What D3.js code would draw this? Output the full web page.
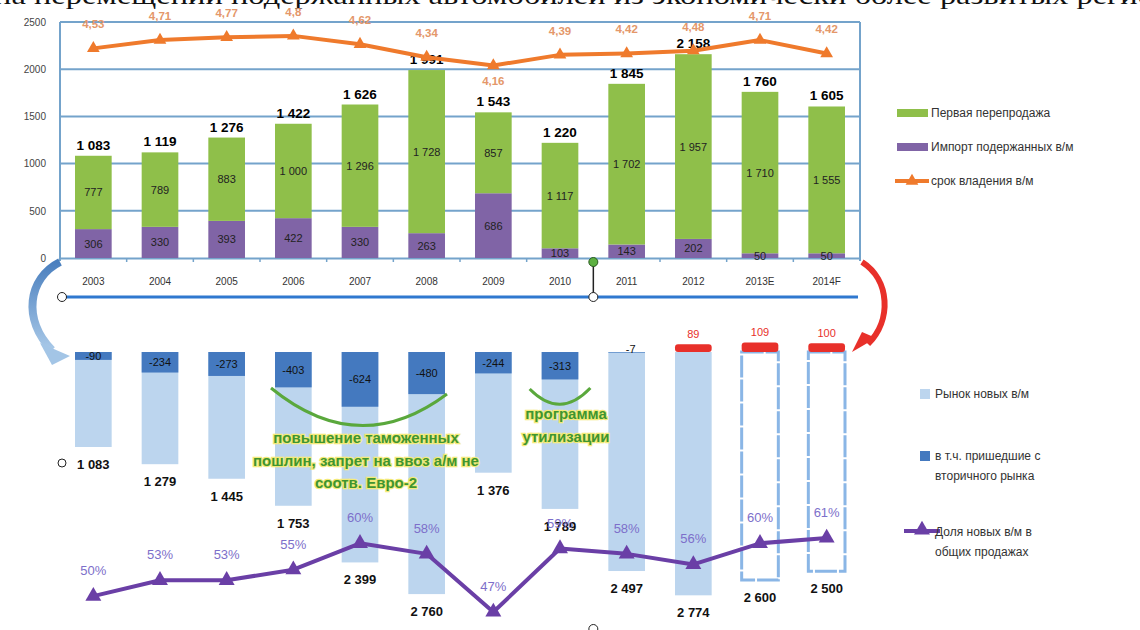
<!DOCTYPE html>
<html><head><meta charset="utf-8">
<script src="https://cdn.jsdelivr.net/npm/d3@7/dist/d3.min.js"></script>
<style>
body{margin:0;background:#fff;}
svg{display:block;}
text{font-family:"Liberation Sans",Arial,sans-serif;}
</style></head>
<body>
<svg id="c" width="1140" height="630"></svg>
<script>
// ---------- DATA ----------
const years = ["2003","2004","2005","2006","2007","2008","2009","2010","2011","2012","2013E","2014F"];
const importUsed = [306,330,393,422,330,263,686,103,143,202,50,50];
const firstResale = [777,789,883,1000,1296,1728,857,1117,1702,1957,1710,1555];
const totalUsed = [1083,1119,1276,1422,1626,1991,1543,1220,1845,2158,1760,1605];
const ownership = [4.53,4.71,4.77,4.8,4.62,4.34,4.16,4.39,4.42,4.48,4.71,4.42];
const ownershipLabels = ["4,53","4,71","4,77","4,8","4,62","4,34","4,16","4,39","4,42","4,48","4,71","4,42"];
const newMarket = [1083,1279,1445,1753,2399,2760,1376,1789,2497,2774,2600,2500];
const fromSecondary = [-90,-234,-273,-403,-624,-480,-244,-313,-7,89,109,100];
const newShare = [50,53,53,55,60,58,47,59,58,56,60,61];
const forecast = [false,false,false,false,false,false,false,false,false,false,true,true];
const yTicksTop = [0,500,1000,1500,2000,2500];
const legendTop = ["Первая перепродажа","Импорт подержанных в/м","срок владения в/м"];
const legendBottom = [["Рынок новых в/м"],["в т.ч. пришедшие с","вторичного рынка"],["Доля новых в/м в","общих продажах"]];
const note1 = ["повышение таможенных","пошлин, запрет на ввоз а/м не","соотв. Евро-2"];
const note2 = ["программа","утилизации"];
const titleText = "на перемещении подержанных автомобилей из экономически более развитых регио";

// ---------- COLORS ----------
const cGreen="#8fbf4a", cPurple="#8064a6", cOrange="#ef7a2c", cOrangeTxt="#e4976a",
      cLight="#bcd5ee", cDark="#4479bf", cRed="#e8302a", cGrid="#74a3cb",
      cLine="#6a3fa6", cPct="#7d6fca", cNote="#3f9530";

const svg = d3.select("#c");

// title (cropped at top)
svg.append("text").attr("x",-6).attr("y",4).attr("textLength",1160)
  .attr("lengthAdjust","spacingAndGlyphs")
  .style("font-family","'Liberation Serif','DejaVu Serif',serif").style("font-size","26px")
  .attr("fill","#111").text(titleText);

// ---------- SCALES ----------
const x = d3.scaleBand().domain(years).range([60,860]).paddingInner(0.45).paddingOuter(0.225);
const yT = d3.scaleLinear().domain([0,2500]).range([258,22]);
const yO = d3.scaleLinear().domain([0,5.1]).range([258,22]);
const yB = d3.scaleLinear().domain([0,2800]).range([352,597.6]);
const yP = d3.scaleLinear().domain([47,61]).range([612,538]);
const cx = d => x(d)+x.bandwidth()/2;

// ---------- TOP CHART ----------
const gTop = svg.append("g");
gTop.selectAll("line.g").data(yTicksTop.slice(1)).join("line")
  .attr("x1",60).attr("x2",860).attr("y1",d=>yT(d)).attr("y2",d=>yT(d))
  .attr("stroke",cGrid).attr("stroke-width",2);
gTop.append("line").attr("x1",60).attr("x2",60).attr("y1",yT(2500)).attr("y2",yT(0)+3).attr("stroke",cGrid).attr("stroke-width",2);
gTop.append("line").attr("x1",860).attr("x2",860).attr("y1",yT(2500)).attr("y2",yT(0)+3).attr("stroke",cGrid).attr("stroke-width",2);
const xAxis = d3.axisBottom(x).tickSize(0).tickPadding(20);
const gx = gTop.append("g").attr("transform",`translate(0,${yT(0)})`).call(xAxis);
gx.select(".domain").attr("stroke",cGrid).attr("stroke-width",2);
gx.selectAll("text").style("font-size","10px").attr("fill","#333");
gTop.selectAll("line.bt").data(years.slice(1)).join("line")
  .attr("x1",d=>x(d)-x.step()*x.paddingInner()/2).attr("x2",d=>x(d)-x.step()*x.paddingInner()/2)
  .attr("y1",yT(0)).attr("y2",yT(0)+4).attr("stroke",cGrid).attr("stroke-width",1.5);
const yAxis = d3.axisLeft(yT).tickValues(yTicksTop).tickFormat(d3.format("d")).tickSize(0).tickPadding(14);
const gy = gTop.append("g").attr("transform","translate(60,0)").call(yAxis);
gy.select(".domain").remove();
gy.selectAll("text").style("font-size","10px").attr("fill","#444");

gTop.selectAll("rect.imp").data(years).join("rect")
  .attr("x",d=>x(d)).attr("width",x.bandwidth())
  .attr("y",(d,i)=>yT(importUsed[i])).attr("height",(d,i)=>yT(0)-yT(importUsed[i]))
  .attr("fill",cPurple);
gTop.selectAll("rect.fr").data(years).join("rect")
  .attr("x",d=>x(d)).attr("width",x.bandwidth())
  .attr("y",(d,i)=>yT(importUsed[i]+firstResale[i])).attr("height",(d,i)=>yT(importUsed[i])-yT(importUsed[i]+firstResale[i]))
  .attr("fill",cGreen);
const fmt = v => d3.format(",")(v).replace(/,/g," ");
gTop.selectAll("text.iv").data(years).join("text")
  .attr("x",cx).attr("y",(d,i)=>(yT(0)+yT(importUsed[i]))/2+4).attr("text-anchor","middle")
  .style("font-size","11px").attr("fill","#222").text((d,i)=>fmt(importUsed[i]));
gTop.selectAll("text.fv").data(years).join("text")
  .attr("x",cx).attr("y",(d,i)=>(yT(importUsed[i])+yT(importUsed[i]+firstResale[i]))/2+4).attr("text-anchor","middle")
  .style("font-size","11px").attr("fill","#222").text((d,i)=>fmt(firstResale[i]));
gTop.selectAll("text.tv").data(years).join("text")
  .attr("x",cx).attr("y",(d,i)=>yT(totalUsed[i])-6).attr("text-anchor","middle")
  .style("font-size","13.5px").style("font-weight","bold").attr("fill","#000").text((d,i)=>fmt(totalUsed[i]));

const lineO = d3.line().x((d,i)=>cx(years[i])).y(d=>yO(d));
gTop.append("path").datum(ownership).attr("d",lineO).attr("fill","none")
  .attr("stroke",cOrange).attr("stroke-width",4).attr("stroke-linejoin","round");
const tri = d3.symbol().type(d3.symbolTriangle).size(70);
gTop.selectAll("path.om").data(ownership).join("path")
  .attr("d",tri).attr("transform",(d,i)=>`translate(${cx(years[i])},${yO(d)})`).attr("fill",cOrange);
gTop.selectAll("text.ol").data(ownership).join("text")
  .attr("x",(d,i)=>cx(years[i])).attr("y",(d,i)=> i===6 ? yO(d)+20 : yO(d)-20)
  .attr("text-anchor","middle").style("font-size","11.5px").style("font-weight","bold")
  .attr("fill",cOrangeTxt).text((d,i)=>ownershipLabels[i]);

// connector line + handles
svg.append("line").attr("x1",62).attr("x2",858).attr("y1",297).attr("y2",297).attr("stroke","#2f78cf").attr("stroke-width",3);
const hx = x("2011")-x.step()*x.paddingInner()/2;
svg.append("line").attr("x1",hx).attr("x2",hx).attr("y1",262).attr("y2",297).attr("stroke","#222").attr("stroke-width",1.5);
svg.append("circle").attr("cx",hx).attr("cy",262).attr("r",4.5).attr("fill","#5cb040").attr("stroke","#2a5a20");
svg.append("circle").attr("cx",hx).attr("cy",297).attr("r",4.5).attr("fill","#fff").attr("stroke","#222");
svg.append("circle").attr("cx",62).attr("cy",297).attr("r",4.5).attr("fill","#fff").attr("stroke","#222");
svg.append("circle").attr("cx",62).attr("cy",463).attr("r",4).attr("fill","#fff").attr("stroke","#222");
svg.append("circle").attr("cx",hx).attr("cy",629).attr("r",4.5).attr("fill","#fff").attr("stroke","#222");

// legend top
const lt = svg.append("g");
lt.append("rect").attr("x",897).attr("y",109).attr("width",31).attr("height",8).attr("fill",cGreen);
lt.append("rect").attr("x",897).attr("y",143).attr("width",31).attr("height",8).attr("fill",cPurple);
lt.append("line").attr("x1",895).attr("x2",929).attr("y1",181).attr("y2",181).attr("stroke",cOrange).attr("stroke-width",4);
lt.append("path").attr("d",tri).attr("transform","translate(912,181)").attr("fill",cOrange);
lt.selectAll("text").data(legendTop).join("text")
  .attr("x",931).attr("y",(d,i)=>[117,151,185][i]).style("font-size","12px").attr("fill","#333").text(d=>d);

// ---------- BOTTOM CHART ----------
const bot = svg.append("g");
bot.selectAll("rect.nm").data(years).join("rect")
  .attr("x",d=>x(d)).attr("width",x.bandwidth())
  .attr("y",yB(0)).attr("height",(d,i)=>yB(newMarket[i])-yB(0))
  .attr("fill",(d,i)=>forecast[i]?"#fff":cLight)
  .attr("stroke",(d,i)=>forecast[i]?"#8ab6e6":"none")
  .attr("stroke-width",3).attr("stroke-dasharray",(d,i)=>forecast[i]?"22,2":null);
bot.selectAll("rect.fs").data(years).join("rect")
  .attr("x",d=>x(d)).attr("width",x.bandwidth())
  .attr("y",(d,i)=>Math.min(yB(0),yB(-fromSecondary[i])))
  .attr("height",(d,i)=>Math.abs(yB(-fromSecondary[i])-yB(0)))
  .attr("fill",(d,i)=>fromSecondary[i]<0?cDark:cRed)
  .attr("rx",(d,i)=>fromSecondary[i]<0?0:3);
bot.selectAll("text.fsl").data(years).join("text")
  .attr("x",(d,i)=> fromSecondary[i]>-20 && fromSecondary[i]<0 ? cx(d)+4 : cx(d))
  .attr("y",(d,i)=>{
     const v=fromSecondary[i];
     if(v>0) return yB(-v)-6;
     if(v>-20) return yB(0)+1;
     return (yB(0)+yB(-v))/2+4;})
  .attr("text-anchor","middle").style("font-size","11px")
  .attr("fill",(d,i)=>fromSecondary[i]>0?cRed:"#111")
  .text((d,i)=>String(fromSecondary[i]));
bot.selectAll("text.nml").data(years).join("text")
  .attr("x",cx).attr("y",(d,i)=>yB(newMarket[i])+22).attr("text-anchor","middle")
  .style("font-size","13px").style("font-weight","600").attr("fill","#111")
  .text((d,i)=>fmt(newMarket[i]));

const lineP = d3.line().x((d,i)=>cx(years[i])).y(d=>yP(d));
bot.append("path").datum(newShare).attr("d",lineP).attr("fill","none")
  .attr("stroke",cLine).attr("stroke-width",4).attr("stroke-linejoin","round");
const tri2 = d3.symbol().type(d3.symbolTriangle).size(110);
bot.selectAll("path.pm").data(newShare).join("path")
  .attr("d",tri2).attr("transform",(d,i)=>`translate(${cx(years[i])},${yP(d)})`).attr("fill",cLine);
bot.selectAll("text.pl").data(newShare).join("text")
  .attr("x",(d,i)=>cx(years[i])).attr("y",d=>yP(d)-21).attr("text-anchor","middle")
  .style("font-size","13px").attr("fill",cPct).text(d=>d+"%");

// annotations
const ann = svg.append("g");
const a1x0 = x("2006")-4, a1x1 = x("2008")+x.bandwidth()+2;
ann.append("path").attr("d",`M${a1x0},388 Q${(a1x0+a1x1)/2},460 ${a1x1},394`)
  .attr("fill","none").attr("stroke","#5aa83c").attr("stroke-width",3);
const a2x0 = x("2010")-12, a2x1 = x("2010")+x.bandwidth()+12;
ann.append("path").attr("d",`M${a2x0},389 Q${(a2x0+a2x1)/2},420 ${a2x1},388`)
  .attr("fill","none").attr("stroke","#5aa83c").attr("stroke-width",3);
const noteStyle = s => s.attr("text-anchor","middle").style("font-size","15px").style("font-weight","bold")
  .attr("fill",cNote).attr("stroke","#f3ea7a").attr("stroke-width",2.5).attr("paint-order","stroke");
ann.selectAll("text.n1").data(note1).join("text")
  .attr("x",366).attr("y",(d,i)=>443+i*22.5).call(noteStyle).text(d=>d);
ann.selectAll("text.n2").data(note2).join("text")
  .attr("x",566).attr("y",(d,i)=>419+i*23).call(noteStyle).text(d=>d);

// curved arrows
const defs = svg.append("defs");
const lg = defs.append("linearGradient").attr("id","bg").attr("x1","0").attr("y1","0").attr("x2","0").attr("y2","1");
lg.append("stop").attr("offset","0").attr("stop-color","#4a7fbe");
lg.append("stop").attr("offset","1").attr("stop-color","#a9c9e8");
svg.append("path").attr("d","M60,262 C28,278 22,320 52,350")
  .attr("fill","none").attr("stroke","url(#bg)").attr("stroke-width",8);
svg.append("path").attr("d","M40,343 L70,356 L52,365 Z").attr("fill","#a3c5e6");
svg.append("path").attr("d","M862,262 C890,280 892,320 868,344")
  .attr("fill","none").attr("stroke",cRed).attr("stroke-width",6);
svg.append("path").attr("d","M876,338 L852,352 L862,332 Z").attr("fill",cRed);

// legend bottom
const lb = svg.append("g");
lb.append("rect").attr("x",920).attr("y",389).attr("width",10).attr("height",10).attr("fill",cLight);
lb.append("rect").attr("x",920).attr("y",451).attr("width",10).attr("height",10).attr("fill",cDark);
lb.append("line").attr("x1",904).attr("x2",940).attr("y1",531).attr("y2",531).attr("stroke",cLine).attr("stroke-width",4);
lb.append("path").attr("d",tri2).attr("transform","translate(922,530)").attr("fill",cLine);
const lbY=[398,460,536];
legendBottom.forEach((lines,k)=>{
  lines.forEach((t,j)=>{
    lb.append("text").attr("x",935).attr("y",lbY[k]+j*20).style("font-size","12px").attr("fill","#333").text(t);
  });
});
</script>
</body></html>
